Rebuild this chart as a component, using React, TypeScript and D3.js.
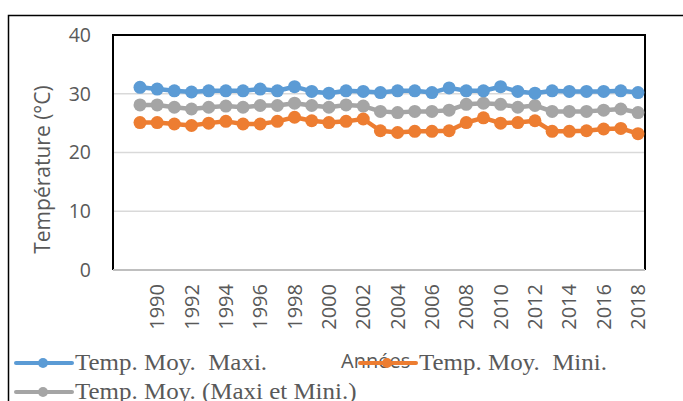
import React from "react";
import * as d3 from "d3";

const years = [1989,1990,1991,1992,1993,1994,1995,1996,1997,1998,1999,2000,2001,2002,2003,2004,2005,2006,2007,2008,2009,2010,2011,2012,2013,2014,2015,2016,2017,2018];
const maxi = [31.1,30.8,30.5,30.3,30.5,30.5,30.5,30.8,30.5,31.2,30.4,30.1,30.5,30.4,30.2,30.5,30.5,30.2,31.0,30.5,30.5,31.2,30.4,30.1,30.5,30.4,30.4,30.4,30.5,30.2];
const mini = [25.1,25.1,24.85,24.6,25.0,25.3,24.85,24.85,25.3,26.0,25.4,25.1,25.3,25.7,23.7,23.4,23.6,23.6,23.7,25.1,25.9,25.0,25.1,25.4,23.6,23.6,23.7,24.0,24.1,23.2];
const moy = [28.1,28.1,27.7,27.4,27.7,27.9,27.7,28.0,28.0,28.4,28.0,27.7,28.1,27.9,27.0,26.8,27.0,27.0,27.2,28.2,28.4,28.2,27.7,28.0,27.0,27.0,27.0,27.2,27.4,26.8];
const yTicks = [0, 10, 20, 30, 40];
const xTickYears = [1990,1992,1994,1996,1998,2000,2002,2004,2006,2008,2010,2012,2014,2016,2018];
const seriesNames = ["Temp. Moy.  Maxi.", "Temp. Moy.  Mini.", "Temp. Moy. (Maxi et Mini.)"];
const colors = ["#5B9BD5", "#ED7D31", "#A5A5A5"];

const W = 683, H = 401;
const plotL = 113, plotR = 645, plotT = 35, plotB = 270;

export default function App() {
  const x = d3.scalePoint<number>().domain(years).range([140, 638]);
  const y = d3.scaleLinear().domain([0, 40]).range([plotB, plotT]);
  const line = d3.line<number>().x((_, i) => x(years[i])!).y(d => y(d));
  const series = [
    { name: seriesNames[0], values: maxi, color: colors[0] },
    { name: seriesNames[1], values: mini, color: colors[1] },
    { name: seriesNames[2], values: moy, color: colors[2] },
  ];
  const drawOrder = [2, 1, 0];
  const sans = "'Open Sans', 'Liberation Sans', sans-serif";
  const serif = "'Liberation Serif', 'Times New Roman', serif";
  const txt = "#595959";

  const legend = [
    { s: 0, lx: 16, ly: 363 },
    { s: 1, lx: 360, ly: 363 },
    { s: 2, lx: 16, ly: 392 },
  ];

  return (
    <svg width={W} height={H} style={{ position: "absolute", left: 0, top: 0, background: "#fff" }}>
      <rect x={8.5} y={15.5} width={W} height={H} fill="#fff" stroke="#000" strokeWidth={1.5} />
      {yTicks.filter(t => t > 0 && t < 40).map(t => (
        <line key={t} x1={plotL} x2={plotR} y1={y(t)} y2={y(t)} stroke="#D9D9D9" strokeWidth={1.5} />
      ))}
      <path d={`M${plotL},${plotB} V${plotT} H${plotR} V${plotB}`} fill="none" stroke="#000" strokeWidth={2} />
      <line x1={plotL} x2={plotR} y1={plotB} y2={plotB} stroke="#BFBFBF" strokeWidth={2} />
      {yTicks.map(t => (
        <text key={t} x={91} y={y(t)} dy="0.35em" textAnchor="end" fontFamily={sans} fontSize={19.5} fill={txt}>{t}</text>
      ))}
      <text transform={`translate(50,${(plotT + plotB) / 2 + 17}) rotate(-90)`} textAnchor="middle" fontFamily={sans} fontSize={21} fill={txt}>Température (°C)</text>
      {xTickYears.map(yr => (
        <text key={yr} transform={`translate(${x(yr)! + 7},284) rotate(-90)`} textAnchor="end" fontFamily={sans} fontSize={20} fill={txt}>{yr}</text>
      ))}
      {drawOrder.map(si => {
        const s = series[si];
        return (
          <g key={s.name}>
            <path d={line(s.values)!} fill="none" stroke={s.color} strokeWidth={4.5} strokeLinejoin="round" />
            {s.values.map((v, i) => (
              <circle key={i} cx={x(years[i])} cy={y(v)} r={6.5} fill={s.color} />
            ))}
          </g>
        );
      })}
      <text x={341} y={368} fontFamily={sans} fontSize={20} fill={txt}>Années</text>
      {legend.map(l => {
        const s = series[l.s];
        return (
          <g key={s.name}>
            <line x1={l.lx} x2={l.lx + 56} y1={l.ly} y2={l.ly} stroke={s.color} strokeWidth={4} strokeLinecap="round" />
            <circle cx={l.lx + 27} cy={l.ly} r={5} fill={s.color} />
            <text transform={`translate(${l.lx + 59},${l.ly + 7}) scale(1.11,1)`} fontFamily={serif} fontSize={22.5} fill={txt} style={{ whiteSpace: "pre" }}>{s.name}</text>
          </g>
        );
      })}
    </svg>
  );
}
